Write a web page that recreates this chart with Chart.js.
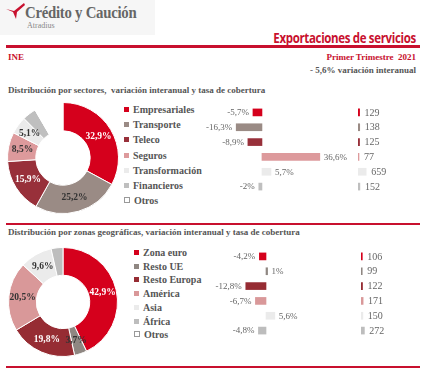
<!DOCTYPE html>
<html>
<head>
<meta charset="utf-8">
<script src="https://cdn.jsdelivr.net/npm/chart.js@4.4.1/dist/chart.umd.min.js"></script>
<style>
    body { margin: 0; width: 425px; height: 376px; background: #fff; position: relative; overflow: hidden; font-family: "Liberation Serif", serif; color: #595959; }
    .abs { position: absolute; white-space: nowrap; }
    .logo-bg { left: 0; top: 0; width: 155px; height: 35px; background: #f6f6f6; }
    .brand { left: 25px; top: 3px; font-size: 17px; font-weight: bold; color: #666; letter-spacing: -0.3px; transform: scaleX(0.87); transform-origin: left top; }
    .brand-sub { left: 27px; top: 21px; font-size: 8px; color: #888; }
    .headline { right: 9px; top: 28px; font-family: "Open Sans", sans-serif; font-size: 14px; font-weight: bold; color: #c8102e; letter-spacing: -0.4px; transform: scaleX(0.82); transform-origin: right top; }
    .rule { left: 6px; width: 414px; height: 2px; background: #c8102e; }
    .red-small { font-size: 9px; font-weight: bold; color: #c8102e; top: 52px; }
    .note { right: 9px; top: 65px; font-size: 9px; font-weight: bold; color: #555; }
    .sec-title { left: 8px; font-size: 9px; font-weight: bold; color: #555; }
    .legend { position: absolute; }
    .legend div { position: absolute; white-space: nowrap; font-size: 10px; font-weight: bold; color: #555; line-height: 12px; }
    .legend span { display: inline-block; width: 5px; height: 5px; margin-right: 4px; vertical-align: 1px; }
    canvas { position: absolute; }
</style>
</head>
<body>
<div class="abs logo-bg"></div>
<svg class="abs" style="left:5px;top:3px" width="20" height="17" viewBox="0 0 20 17">
    <path d="M1 6 L9 8 L19 0 L20 2 L12 9 L11 16 L8 9 Z" fill="#c8102e"/>
</svg>
<div class="abs brand">Crédito y Caución</div>
<div class="abs brand-sub">Atradius</div>
<div class="abs headline">Exportaciones de servicios</div>
<div class="abs rule" style="top:45px;height:2.5px"></div>
<div class="abs red-small" style="left:8px">INE</div>
<div class="abs red-small" style="right:9px">Primer Trimestre&nbsp; 2021</div>
<div class="abs note">- 5,6% variación interanual</div>

<div class="abs sec-title" style="top:85px">Distribución por sectores,&nbsp; variación interanual y tasa de cobertura</div>
<canvas id="sectorDonut" width="112" height="112" style="left:7px;top:102px"></canvas>
<div class="legend" id="sectorLegend" style="left:124px;top:104px"></div>
<canvas id="sectorChange" width="150" height="89" style="left:200px;top:105px"></canvas>
<canvas id="sectorCover" width="62" height="89" style="left:358px;top:105px"></canvas>

<div class="abs rule" style="top:223px"></div>
<div class="abs sec-title" style="top:227px">Distribución por zonas geográficas, variación interanual y tasa de cobertura</div>
<canvas id="zoneDonut" width="110" height="110" style="left:8px;top:247px"></canvas>
<div class="legend" id="zoneLegend" style="left:134px;top:247px"></div>
<canvas id="zoneChange" width="150" height="89" style="left:200px;top:249px"></canvas>
<canvas id="zoneCover" width="62" height="89" style="left:361px;top:249px"></canvas>

<div class="abs rule" style="top:366px"></div>

<script>
// sectores
const sectorLabels = ['Empresariales', 'Transporte', 'Teleco', 'Seguros', 'Transformación', 'Financieros', 'Otros'];
const sectorShare = [32.9, 25.2, 15.9, 8.5, 5.1, 4.0, 8.4];
const sectorChange = [-5.7, -16.3, -8.9, 36.6, 5.7, -2];
const sectorCover = [129, 138, 125, 77, 659, 152];
const sectorColors = ['#d5001c', '#9a8b85', '#98303a', '#dd9a9c', '#ebebeb', '#bfbfbf', '#ffffff'];

// zonas geográficas
const zoneLabels = ['Zona euro', 'Resto UE', 'Resto Europa', 'América', 'Asia', 'África', 'Otros'];
const zoneShare = [42.9, 3.7, 19.8, 20.5, 9.6, 3.5, 0];
const zoneChange = [-4.2, 1, -12.8, -6.7, 5.6, -4.8];
const zoneCover = [106, 99, 122, 171, 150, 272];
const zoneColors = ['#d5001c', '#8f8782', '#962c33', '#d99899', '#ebebeb', '#bdbdbd', '#ffffff'];

// only the first five slices carry a label; dark slices get white text
const sliceTextColors = ['#fff', '#333', '#fff', '#333', '#333'];

const fmtNum = v => String(v).replace('.', ',');

const sliceLabels = {
    id: 'sliceLabels',
    afterDatasetsDraw(chart) {
        const ctx = chart.ctx;
        const meta = chart.getDatasetMeta(0);
        const data = chart.data.datasets[0].data;
        ctx.save();
        ctx.font = 'bold 9.5px "Liberation Serif"';
        ctx.textAlign = 'center';
        ctx.textBaseline = 'middle';
        meta.data.forEach((arc, i) => {
            if (i >= sliceTextColors.length) return;
            const p = arc.tooltipPosition();
            ctx.fillStyle = sliceTextColors[i];
            ctx.fillText(data[i].toFixed(1).replace('.', ',') + '%', p.x, p.y);
        });
        ctx.restore();
    }
};

const barLabels = {
    id: 'barLabels',
    afterDatasetsDraw(chart, args, opts) {
        const ctx = chart.ctx;
        const meta = chart.getDatasetMeta(0);
        const data = chart.data.datasets[0].data;
        ctx.save();
        ctx.font = opts.font;
        ctx.fillStyle = '#666';
        ctx.textBaseline = 'middle';
        meta.data.forEach((bar, i) => {
            const v = data[i];
            const txt = fmtNum(v) + (opts.percent ? '%' : '');
            if (v < 0) {
                ctx.textAlign = 'right';
                ctx.fillText(txt, bar.x - opts.gap, bar.y + 0.5);
            } else {
                ctx.textAlign = 'left';
                ctx.fillText(txt, bar.x + opts.gap, bar.y + 0.5);
            }
        });
        ctx.restore();
    }
};

function makeDonut(id, labels, share, colors) {
    new Chart(document.getElementById(id), {
        type: 'doughnut',
        data: {
            labels: labels,
            datasets: [{ data: share, backgroundColor: colors, borderColor: '#fff', borderWidth: 1 }]
        },
        options: {
            responsive: false,
            animation: false,
            cutout: '49%',
            plugins: { legend: { display: false }, tooltip: { enabled: false } }
        },
        plugins: [sliceLabels]
    });
}

function makeBars(id, values, colors, min, max, percent, font, gap) {
    new Chart(document.getElementById(id), {
        type: 'bar',
        data: {
            labels: values.map((v, i) => i),
            datasets: [{ data: values, backgroundColor: colors.slice(0, values.length), barThickness: 7, minBarLength: 1 }]
        },
        options: {
            indexAxis: 'y',
            responsive: false,
            animation: false,
            scales: {
                x: { display: false, min: min, max: max },
                y: { display: false }
            },
            plugins: {
                legend: { display: false },
                tooltip: { enabled: false },
                barLabels: { percent: percent, font: font, gap: gap }
            }
        },
        plugins: [barLabels]
    });
}

function makeLegend(id, labels, colors, step) {
    const box = document.getElementById(id);
    labels.forEach((name, i) => {
        const row = document.createElement('div');
        row.style.top = (i * step) + 'px';
        const sw = document.createElement('span');
        sw.style.background = colors[i];
        if (colors[i] === '#ffffff') {
            sw.style.border = '1px solid #999';
            sw.style.width = '4px';
            sw.style.height = '4px';
        }
        row.appendChild(sw);
        row.appendChild(document.createTextNode(name));
        box.appendChild(row);
    });
}

makeDonut('sectorDonut', sectorLabels, sectorShare, sectorColors);
makeDonut('zoneDonut', zoneLabels, zoneShare, zoneColors);
makeLegend('sectorLegend', sectorLabels, sectorColors, 15.2);
makeLegend('zoneLegend', zoneLabels, zoneColors, 13.7);

makeBars('sectorChange', sectorChange, sectorColors, -39.2, 55.7, true, '9px "Liberation Serif"', 4);
makeBars('zoneChange', zoneChange, zoneColors, -41.8, 53.2, true, '9px "Liberation Serif"', 4);
makeBars('sectorCover', sectorCover, sectorColors, 0, 5000, false, '10px "Liberation Serif"', 5);
makeBars('zoneCover', zoneCover, zoneColors, 0, 5000, false, '10px "Liberation Serif"', 5);
</script>
</body>
</html>
